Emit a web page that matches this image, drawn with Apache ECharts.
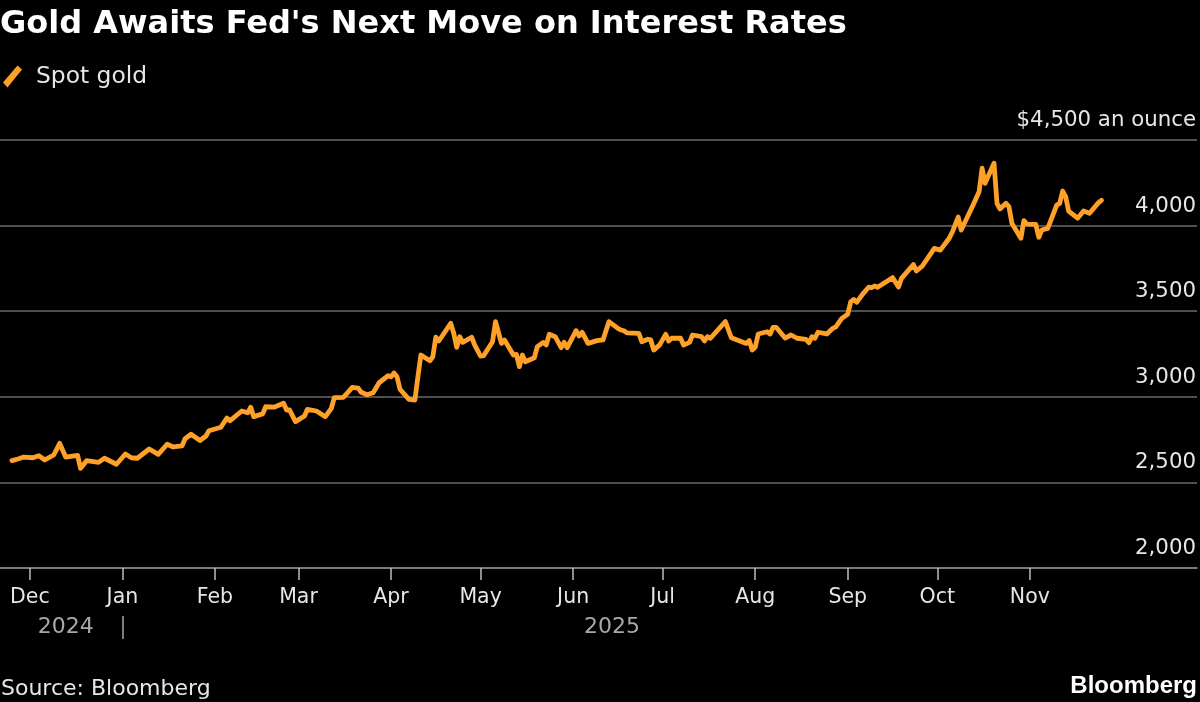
<!DOCTYPE html>
<html>
<head>
<meta charset="utf-8">
<style>html,body{margin:0;background:#000}#chart{width:1200px;height:702px}</style>
<script src="https://cdn.jsdelivr.net/npm/echarts@6/dist/echarts.min.js"></script>
</head>
<body>
<div id="chart"></div>
<script>
// days counted from 1 Dec 2024
var dayOffsets = [-6,-4,-2,1,3,5,8,10,12,16,17,19,23,25,29,32,34,36,40,43,46,48,51,52,54,57,59,60,64,66,67,71,73,74,75,78,79,82,85,86,87,89,92,93,96,99,101,102,105,106,108,110,111,113,115,117,120,121,122,123,124,127,129,130,131,134,135,136,137,141,142,143,144,145,148,149,151,152,155,156,158,159,162,163,164,165,166,169,170,172,173,174,176,178,179,180,183,184,185,187,190,192,194,197,198,199,200,204,205,207,208,209,211,213,214,215,218,219,221,222,225,226,227,228,233,235,240,241,242,243,244,247,248,249,250,253,255,257,260,261,262,263,264,267,269,270,272,274,275,276,277,279,281,282,283,284,289,291,292,296,297,299,303,305,308,309,311,312,316,318,319,320,323,324,325,327,328,329,332,333,334,337,338,339,341,344,345,346,347,348,351,353,355,358,359];
var prices = [2627,2637,2648,2644,2656,2631,2660,2728,2648,2658,2582,2627,2617,2641,2606,2666,2644,2641,2695,2664,2723,2707,2713,2755,2781,2745,2771,2802,2822,2876,2860,2917,2907,2939,2884,2900,2942,2940,2962,2923,2923,2855,2888,2927,2917,2884,2933,2995,2997,3015,3055,3051,3026,3012,3024,3082,3123,3117,3139,3117,3044,2985,2981,3117,3244,3211,3234,3348,3326,3429,3371,3289,3351,3318,3348,3303,3238,3240,3322,3439,3312,3332,3244,3248,3176,3244,3205,3228,3293,3318,3303,3365,3351,3287,3318,3287,3386,3355,3377,3312,3328,3332,3439,3400,3390,3386,3373,3371,3322,3336,3332,3273,3303,3365,3326,3342,3342,3303,3318,3361,3351,3326,3351,3342,3439,3345,3312,3328,3273,3289,3367,3380,3367,3406,3406,3343,3361,3342,3336,3316,3351,3342,3377,3367,3400,3409,3458,3482,3555,3569,3552,3600,3640,3637,3647,3640,3696,3641,3692,3772,3735,3764,3867,3857,3926,3961,4050,3974,4120,4198,4335,4247,4364,4130,4097,4130,4110,4013,3926,4029,4009,4007,3932,3974,3984,4120,4130,4202,4169,4085,4043,4085,4072,4134,4148];
var monthDays = [0,31,62,90,121,151,182,212,243,274,304,335];
var monthLabels = ['Dec','Jan','Feb','Mar','Apr','May','Jun','Jul','Aug','Sep','Oct','Nov'];
var yearDays = [12,195];
var yearLabels = ['2024','2025'];
var yearBreakDays = [31];
var yTicks = [2000,2500,3000,3500,4000,4500];
var yLabels = ['2,000','2,500','3,000','3,500','4,000','$4,500 an ounce'];

var seriesData = [];
for (var i=0;i<dayOffsets.length;i++){
	seriesData.push([dayOffsets[i], prices[i]]);
}
var sans = '"DejaVu Sans"';

var chart = echarts.init(document.getElementById('chart'));
chart.setOption({
	backgroundColor:'#000',
	animation:false,
	title:[
		{text:"Gold Awaits Fed's Next Move on Interest Rates",left:0,top:9,padding:0,textStyle:{color:'#fff',fontFamily:sans,fontWeight:'bold',fontSize:32}},
		{text:'Source: Bloomberg',left:1,top:678,padding:0,textStyle:{color:'#e6e6e6',fontFamily:sans,fontWeight:'normal',fontSize:22}},
		{text:'Bloomberg',right:3,top:674,padding:0,textStyle:{color:'#fff',fontFamily:'"Liberation Sans"',fontWeight:'bold',fontSize:24}}
	],
	legend:{
		left:3,top:65,padding:0,itemWidth:19,itemHeight:22,itemGap:0,
		icon:'path://M0,17 L14.5,0 L19,4 L4.5,22 Z',
		textStyle:{color:'#e6e6e6',fontFamily:sans,fontSize:23.4,padding:[0,0,0,9]},
		data:['Spot gold']
	},
	grid:{left:0,top:140,width:1197,height:428},
	xAxis:[{
		type:'value',min:-10,max:391,
		axisLine:{lineStyle:{color:'#8a8a8a',width:1.5}},
		axisTick:{show:true,length:12,lineStyle:{color:'#bdbdbd',width:1.5},customValues:monthDays},
		axisLabel:{
			color:'#e6e6e6',fontFamily:sans,fontSize:20.5,margin:19,hideOverlap:false,
			customValues:monthDays,
			formatter:function(v){ return monthLabels[monthDays.indexOf(v)]; }
		},
		splitLine:{show:false}
	},{
		type:'value',min:-10,max:391,position:'bottom',offset:48,
		axisLine:{show:false},splitLine:{show:false},
		axisTick:{show:true,length:23,lineStyle:{color:'#a8a8a8',width:1.5},customValues:yearBreakDays},
		axisLabel:{
			color:'#a8a8a8',fontFamily:sans,fontSize:22,margin:0,hideOverlap:false,
			customValues:yearDays,
			formatter:function(v){ return yearLabels[yearDays.indexOf(v)]; }
		}
	}],
	yAxis:{
		type:'value',position:'right',min:2000,max:4500,interval:500,
		axisLine:{show:false},axisTick:{show:false},
		splitLine:{lineStyle:{color:'#6a6a6a',width:1.5}},
		axisLabel:{
			inside:true,margin:1,color:'#e6e6e6',fontFamily:sans,fontSize:21.3,
			verticalAlign:'bottom',padding:[0,0,9,0],
			formatter:function(v){ return yLabels[yTicks.indexOf(v)]; }
		}
	},
	series:[{
		name:'Spot gold',type:'line',data:seriesData,showSymbol:false,symbol:'none',
		itemStyle:{color:'#ffa028'},
		lineStyle:{color:'#ffa028',width:4.8,join:'round',cap:'round'}
	}]
});
</script>
</body>
</html>
